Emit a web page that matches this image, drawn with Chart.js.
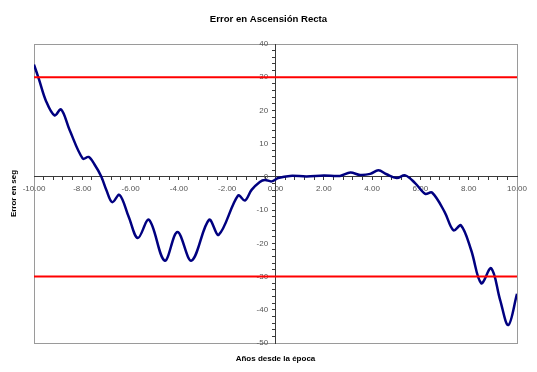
<!DOCTYPE html>
<html>
<head>
<meta charset="utf-8">
<title>Error en Ascensión Recta</title>
<script src="https://cdn.jsdelivr.net/npm/chart.js@4/dist/chart.umd.min.js"></script>
<style>
  html, body { margin: 0; padding: 0; background: #fff; }
  canvas { display: block; }
</style>
</head>
<body>
<canvas id="chart" width="537" height="372"></canvas>
<script>
// datos
let anios = [-10.0, -9.8, -9.5, -9.15, -8.88, -8.53, -7.98, -7.74, -7.5, -7.22, -7.0, -6.76, -6.46, -6.08, -5.70,
             -5.24, -4.59, -4.06, -3.48, -2.75, -2.35, -1.55, -1.27, -0.99, -0.65, -0.44, -0.16, 0.11, 0.6,
             1.29, 2.0, 2.67, 3.1, 3.5, 3.92, 4.26, 4.6, 5.02, 5.37, 5.78, 6.2, 6.48, 7.0, 7.37, 7.68,
             8.1, 8.52, 8.93, 9.3, 9.64, 10.0];
let error_seg = [33.8, 29.5, 22.8, 18.5, 20.3, 14.2, 5.5, 6.0, 3.8, 0.2, -4.0, -7.6, -5.4, -12.0, -18.4,
                 -12.9, -25.2, -16.6, -25.2, -12.9, -17.4, -5.6, -7.1, -3.9, -1.5, -0.9, -1.35, -0.35, 0.3,
                 0.15, 0.45, 0.3, 1.3, 0.6, 0.9, 2.0, 0.8, -0.35, 0.45, -1.85, -5.1, -4.7, -10.5, -16.1, -14.6,
                 -22.0, -32.0, -27.5, -37.0, -44.6, -35.2];
let limite_sup = 30;
let limite_inf = -30;

let x_min = -10, x_max = 10;
let y_min = -50, y_max = 40;
let x_ticks = [-10, -8, -6, -4, -2, 0, 2, 4, 6, 8, 10];
let y_ticks = [-50, -40, -30, -20, -10, 0, 10, 20, 30, 40];

let fuente = "'Liberation Sans', Arial, sans-serif";
let color_marco = '#9a9a9a';
let color_eje = '#3a3a3a';
let color_texto = '#555555';

function puntos(xs, ys) {
    return xs.map(function (x, i) { return { x: x, y: ys[i] }; });
}

function esMayor(lista, v) {
    return lista.some(function (t) { return Math.abs(t - v) < 1e-6; });
}

// escalas solo de marco (sin marcas)
function marco(axis, position, size, extra) {
    let s = {
        type: 'linear',
        axis: axis,
        position: position,
        min: axis === 'x' ? x_min : y_min,
        max: axis === 'x' ? x_max : y_max,
        ticks: { display: false },
        grid: { display: false, drawTicks: false },
        border: { display: true, color: color_marco, width: 1 },
        afterFit: function (scale) {
            if (axis === 'x') scale.height = size; else scale.width = size;
        }
    };
    return Object.assign(s, extra || {});
}

let chartError = new Chart(document.getElementById('chart'), {
    type: 'scatter',
    data: {
        datasets: [
            {
                label: 'Limite superior',
                data: puntos([x_min, x_max], [limite_sup, limite_sup]),
                showLine: true,
                borderColor: '#ff0000',
                borderWidth: 2,
                pointRadius: 0,
                order: 1
            },
            {
                label: 'Limite inferior',
                data: puntos([x_min, x_max], [limite_inf, limite_inf]),
                showLine: true,
                borderColor: '#ff0000',
                borderWidth: 2,
                pointRadius: 0,
                order: 1
            },
            {
                label: 'Error',
                data: puntos(anios, error_seg),
                showLine: true,
                borderColor: '#000080',
                borderWidth: 2.5,
                tension: 0.35,
                pointRadius: 0,
                order: 2
            }
        ]
    },
    options: {
        responsive: false,
        animation: false,
        devicePixelRatio: 1,
        layout: { padding: 0 },
        plugins: {
            legend: { display: false },
            tooltip: { enabled: false },
            title: {
                display: true,
                text: 'Error en Ascensión Recta',
                color: '#000',
                font: { family: fuente, size: 9.6, weight: 'bold' },
                padding: { top: 13.5, bottom: 0 }
            }
        },
        scales: {
            x: marco('x', 'bottom', 29, {
                title: {
                    display: true,
                    text: 'Años desde la época',
                    color: '#000',
                    font: { family: fuente, size: 8, weight: 'bold' },
                    padding: { top: 0, bottom: 8 }
                }
            }),
            y: marco('y', 'left', 34, {
                title: {
                    display: true,
                    text: 'Error en seg',
                    color: '#000',
                    font: { family: fuente, size: 8, weight: 'bold' },
                    padding: { top: 8.5, bottom: 0 }
                }
            }),
            xTop: marco('x', 'top', 19),
            yRight: marco('y', 'right', 20),
            // ejes que cruzan en cero
            xa: {
                type: 'linear',
                axis: 'x',
                position: { y: 0 },
                min: x_min,
                max: x_max,
                ticks: {
                    stepSize: 0.4,
                    autoSkip: false,
                    maxRotation: 0,
                    minRotation: 0,
                    padding: 4,
                    color: color_texto,
                    font: { family: fuente, size: 8 },
                    callback: function (v) {
                        return esMayor(x_ticks, v) ? (Math.round(v * 100) / 100).toFixed(2) : '';
                    }
                },
                grid: { display: true, drawOnChartArea: false, drawTicks: true, tickLength: 3, color: color_eje },
                border: { display: true, color: color_eje, width: 1 },
                afterFit: function (scale) { scale.height = 0; }
            },
            ya: {
                type: 'linear',
                axis: 'y',
                position: { x: 0 },
                min: y_min,
                max: y_max,
                ticks: {
                    stepSize: 2,
                    autoSkip: false,
                    padding: 4,
                    color: color_texto,
                    font: { family: fuente, size: 8 },
                    // espacios al final para separar la etiqueta del eje
                    callback: function (v) {
                        return esMayor(y_ticks, v) ? String(Math.round(v)) + '   \u200A' : '';
                    }
                },
                grid: { display: true, drawOnChartArea: false, drawTicks: true, tickLength: 3, color: color_eje },
                border: { display: true, color: color_eje, width: 1 },
                afterFit: function (scale) { scale.width = 0; }
            }
        }
    }
});
</script>
</body>
</html>
